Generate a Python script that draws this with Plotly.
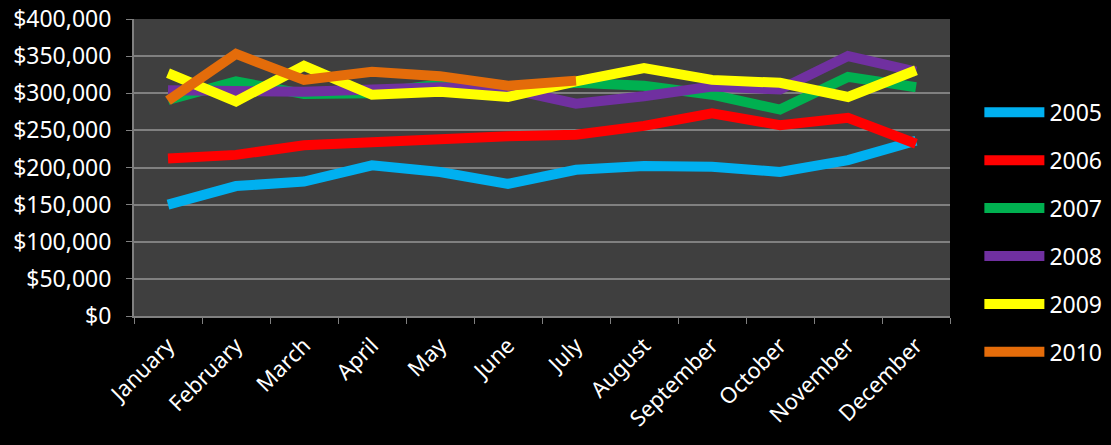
import plotly.graph_objects as go

months = ["January", "February", "March", "April", "May", "June", "July",
          "August", "September", "October", "November", "December"]

y2005 = [150000, 175000, 181000, 203000, 194000, 178000, 197000, 202000, 201000, 194000, 210000, 236000]
y2006 = [212000, 217000, 230000, 235000, 239000, 242000, 244000, 256000, 273000, 257000, 267000, 232000]
y2007 = [291000, 316000, 299000, 300000, 312000, 306000, 314000, 310000, 298000, 278000, 322000, 308000]
y2008 = [304000, 302000, 302000, 305000, 308000, 306000, 286000, 296000, 309000, 305000, 350000, 329000]
y2009 = [327000, 289000, 337000, 298000, 302000, 295000, 316000, 334000, 318000, 314000, 295000, 331000]
y2010 = [290000, 353000, 318000, 329000, 323000, 310000, 317000]

series = [
    ("2005", y2005, "#00B0F0"),
    ("2006", y2006, "#FF0000"),
    ("2007", y2007, "#00B050"),
    ("2008", y2008, "#7030A0"),
    ("2009", y2009, "#FFFF00"),
    ("2010", y2010, "#E46C0A"),
]

fig = go.Figure()
for name, vals, color in series:
    fig.add_trace(go.Scatter(
        x=months[:len(vals)], y=vals, name=name, mode="lines",
        legendgroup=name,
        line=dict(color=color, width=10),
    ))

font_family = "Noto Sans, Open Sans, Liberation Sans, sans-serif"

fig.update_layout(
    width=1111, height=445,
    paper_bgcolor="#000000",
    plot_bgcolor="#3F3F3F",
    margin=dict(l=134, r=161, t=19, b=129, autoexpand=False),
    font=dict(family=font_family, color="#FFFFFF", size=22),
    showlegend=True,
    legend=dict(
        x=1.036, xanchor="left", y=0.758, yanchor="top",
        font=dict(size=23, color="#FFFFFF"),
        tracegroupgap=15,
        itemwidth=60,
        maxheight=1,
        bgcolor="rgba(0,0,0,0)",
    ),
    xaxis=dict(
        type="category",
        categoryorder="array", categoryarray=months,
        tickangle=-45,
        tickson="boundaries",
        ticks="outside", ticklen=6, tickcolor="#808080",
        showline=True, linecolor="#808080", linewidth=2,
        showgrid=False,
        tickfont=dict(size=22, color="#FFFFFF"),
        ticklabelstandoff=6,
        range=[-0.5, 11.5],
    ),
    yaxis=dict(
        range=[0, 400000],
        dtick=50000,
        tickformat="$,.0f",
        ticks="outside", ticklen=6, tickcolor="#808080",
        showline=True, linecolor="#808080", linewidth=2,
        showgrid=True, gridcolor="#808080", gridwidth=2,
        zeroline=False,
        tickfont=dict(size=23, color="#FFFFFF"),
        ticklabelstandoff=10,
        ticklabeloverflow="allow",
    ),
)

fig.write_html(
    "out.html",
    config={"displayModeBar": False},
    post_script="document.body.style.margin='0';document.body.style.background='#000000';",
)
